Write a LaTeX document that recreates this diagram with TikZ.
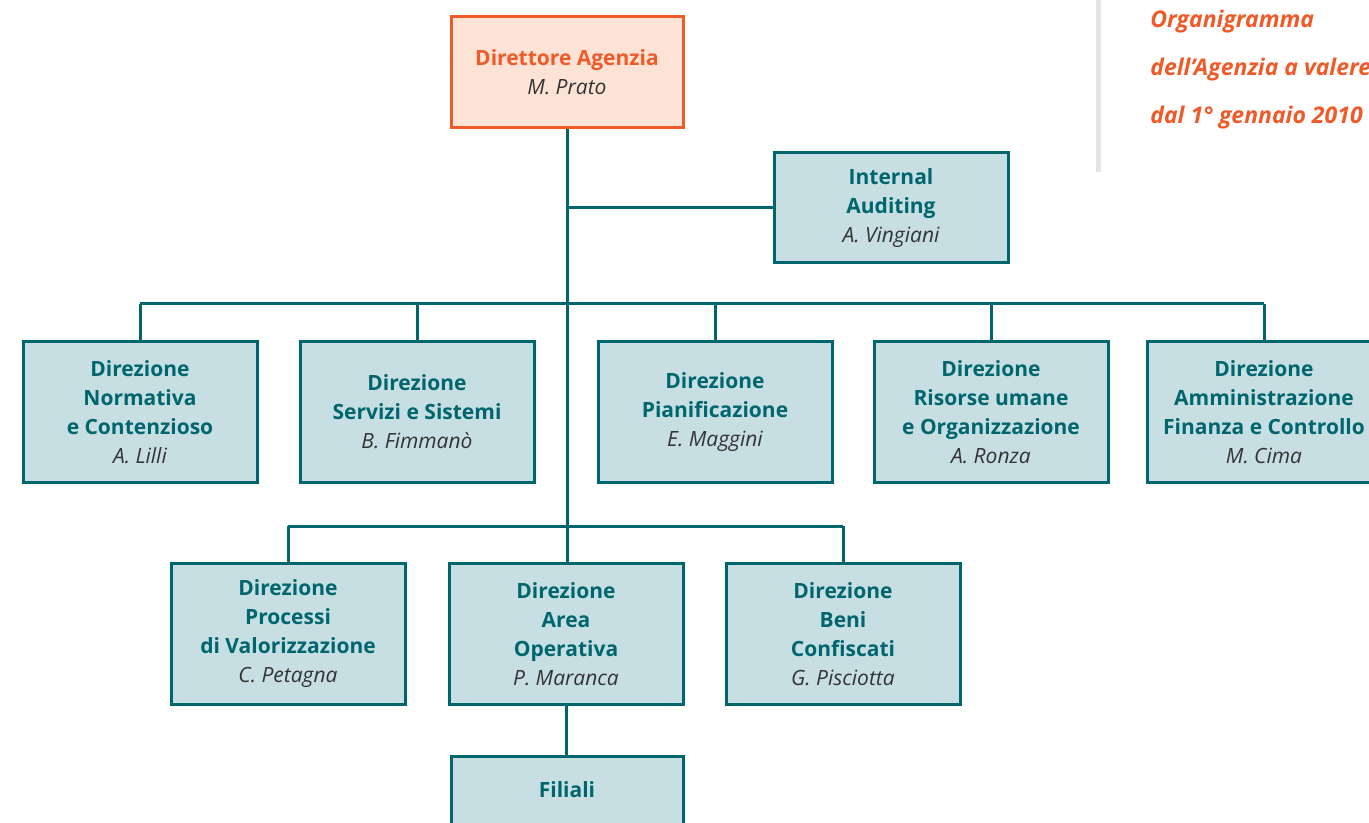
\documentclass[tikz,border=0pt]{standalone}
\usepackage{fontspec}
\setmainfont{Open Sans}
\usepackage{xcolor}
\usetikzlibrary{positioning}
\definecolor{tealline}{HTML}{00666E}
\definecolor{tealfill}{HTML}{C7DFE3}
\definecolor{orangeline}{HTML}{F05A28}
\definecolor{orangefill}{HTML}{FDE3D5}
\definecolor{namegray}{HTML}{333333}
\newcommand{\persona}[1]{{\mdseries\itshape\color{namegray}#1}}

\begin{document}
\begin{tikzpicture}[x=0.5pt,y=-0.5pt,
  every node/.style={font=\fontsize{10.5}{14.5}\selectfont},
  unit/.style={rectangle,draw=tealline,fill=tealfill,line width=1.5pt,
    text=tealline,font=\fontsize{10.5}{14.5}\selectfont\bfseries,align=center,
    minimum width=117pt,minimum height=70.5pt,inner sep=2pt},
  head/.style={unit,draw=orangeline,fill=orangefill,text=orangeline,
    minimum width=116pt,minimum height=55.5pt},
  link/.style={draw=tealline,line width=1.5pt}
]
  \useasboundingbox (0,0) rectangle (1369,823);
  \clip (0,0) rectangle (1369,823);
  % caption
  \draw[black!10,line width=2.5pt] (1098,0) -- (1098,172);
  \node[anchor=north west,align=left,text=orangeline,inner sep=0pt,
    font=\fontsize{11.5}{24}\selectfont\bfseries\itshape] (cap) at (1150,10)
    {Organigramma\\dell’Agenzia a valere\\dal 1° gennaio 2010};
  % top
  \node[head] (dir) at (567,72) {Direttore Agenzia\\\persona{M. Prato}};
  \node[unit,minimum height=55pt] (ia) at (891,208)
    {Internal\\Auditing\\\persona{A. Vingiani}};
  % first row
  \node[unit] (dnc) at (140,412) {Direzione\\Normativa\\e Contenzioso\\\persona{A. Lilli}};
  \node[unit] (dss) at (417,412) {Direzione\\Servizi e Sistemi\\\persona{B. Fimmanò}};
  \node[unit] (dpi) at (715,412) {Direzione\\Pianificazione\\\persona{E. Maggini}};
  \node[unit] (dru) at (991,412) {Direzione\\Risorse umane\\e Organizzazione\\\persona{A. Ronza}};
  \node[unit] (daf) at (1264,412) {Direzione\\Amministrazione\\Finanza e Controllo\\\persona{M. Cima}};
  % second row
  \node[unit] (dpv) at (288,634) {Direzione\\Processi\\di Valorizzazione\\\persona{C. Petagna}};
  \node[unit] (dao) at (566,634) {Direzione\\Area\\Operativa\\\persona{P. Maranca}};
  \node[unit] (dbc) at (843,634) {Direzione\\Beni\\Confiscati\\\persona{G. Pisciotta}};
  \node[unit,minimum width=116pt,minimum height=34pt] (fil) at (567,790) {Filiali};
  % connectors
  \coordinate (bus1) at (566,304);
  \coordinate (bus2) at (566,526);
  \draw[link] (dir.south) -- (dir.south |- dao.north);
  \draw[link] (ia.west) -- (ia.west -| dir.south);
  \draw[link] (dnc.north |- bus1) -- (daf.north |- bus1);
  \foreach \n in {dnc,dss,dpi,dru,daf}
    \draw[link] (\n.north |- bus1) -- (\n.north);
  \draw[link] (dpv.north |- bus2) -- (dbc.north |- bus2);
  \foreach \n in {dpv,dbc}
    \draw[link] (\n.north |- bus2) -- (\n.north);
  \draw[link] (dao.south) -- (dao.south |- fil.north);
\end{tikzpicture}
\end{document}
